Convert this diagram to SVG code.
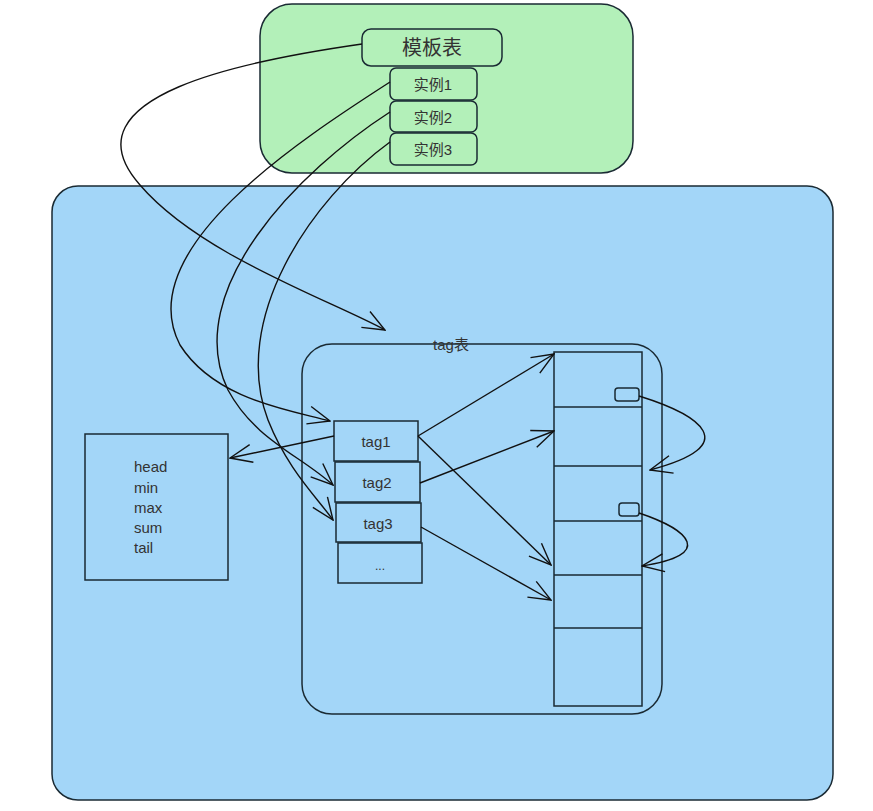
<svg xmlns="http://www.w3.org/2000/svg" width="873" height="811" viewBox="0 0 873 811">
<style>
.b{stroke:#1a2a33;stroke-width:1.5}
.t{font-family:"Liberation Sans","Noto Sans CJK SC",sans-serif;fill:#333}
.c{fill:none;stroke:#111;stroke-width:1.4}
</style>
<defs>
<marker id="a" viewBox="0 0 24 20" refX="23" refY="10" markerWidth="24" markerHeight="20" markerUnits="userSpaceOnUse" orient="auto"><path d="M1,1 L23,10 L1,19" fill="none" stroke="#111" stroke-width="1.4"/></marker>
</defs>
<rect width="873" height="811" fill="#fff"/>
<g id="green"><rect x="260" y="4" width="373" height="169" rx="32" fill="#b3f0b9" class="b"/></g>
<g id="blue"><rect x="52" y="186" width="781" height="614" rx="26" fill="#a3d6f8" class="b"/></g>
<g id="tpl"><rect x="362" y="29" width="140" height="37" rx="9" fill="#b3f0b9" class="b"/><text x="432" y="55" text-anchor="middle" font-size="20" class="t">模板表</text></g>
<g id="i1"><rect x="390" y="68" width="87" height="32" rx="6" fill="#b3f0b9" class="b"/><text x="433" y="90" text-anchor="middle" font-size="15" class="t">实例1</text></g>
<g id="i2"><rect x="390" y="101" width="87" height="31" rx="6" fill="#b3f0b9" class="b"/><text x="433" y="123" text-anchor="middle" font-size="15" class="t">实例2</text></g>
<g id="i3"><rect x="390" y="133" width="87" height="32" rx="6" fill="#b3f0b9" class="b"/><text x="433" y="155" text-anchor="middle" font-size="15" class="t">实例3</text></g>
<g id="tagtable"><rect x="302" y="344" width="360" height="370" rx="30" fill="none" class="b"/><text x="451" y="350" text-anchor="middle" font-size="15" class="t">tag表</text></g>
<g id="head"><rect x="85" y="434" width="143" height="146" fill="none" class="b"/>
<text class="t" font-size="15" x="134" y="472">head</text><text class="t" font-size="15" x="134" y="493">min</text><text class="t" font-size="15" x="134" y="513">max</text><text class="t" font-size="15" x="134" y="533">sum</text><text class="t" font-size="15" x="134" y="553">tail</text></g>
<g id="tags">
<rect x="334" y="421" width="84" height="40" fill="none" class="b"/><text x="376" y="447" text-anchor="middle" font-size="15" class="t">tag1</text>
<rect x="335" y="462" width="85" height="40" fill="none" class="b"/><text x="377" y="488" text-anchor="middle" font-size="15" class="t">tag2</text>
<rect x="336" y="503" width="85" height="39" fill="none" class="b"/><text x="378" y="529" text-anchor="middle" font-size="15" class="t">tag3</text>
<rect x="338" y="543" width="84" height="40" fill="none" class="b"/><text x="380" y="570" text-anchor="middle" font-size="12" class="t">...</text>
</g>
<g id="column">
<rect x="554" y="352" width="88" height="354" fill="none" class="b"/>
<path d="M554,407H642M554,466H642M554,521H642M554,575H642M554,628H642" class="b"/>
<rect x="615" y="388" width="24" height="13" rx="3" fill="none" class="b"/>
<rect x="619" y="503" width="20" height="13" rx="3" fill="none" class="b"/>
</g>
<g id="connectors">
<path class="c" marker-end="url(#a)" d="M362,44 C250,60 60,95 140,185 C200,255 330,300 385,330"/>
<path class="c" marker-end="url(#a)" d="M390,82 C300,140 130,250 180,345 C215,400 290,410 330,421"/>
<path class="c" marker-end="url(#a)" d="M390,112 C300,170 180,290 228,390 C255,440 300,455 333,485"/>
<path class="c" marker-end="url(#a)" d="M390,142 C310,200 230,320 268,420 C288,470 315,495 333,520"/>
<path class="c" marker-end="url(#a)" d="M334,436 L230,458"/>
<path class="c" marker-end="url(#a)" d="M418,436 L554,354"/>
<path class="c" marker-end="url(#a)" d="M418,436 L551,565"/>
<path class="c" marker-end="url(#a)" d="M420,483 L554,431"/>
<path class="c" marker-end="url(#a)" d="M421,527 L551,600"/>
<path class="c" marker-end="url(#a)" d="M639,396 C700,415 745,445 650,470"/>
<path class="c" marker-end="url(#a)" d="M639,513 C690,530 715,555 642,566"/>
</g>
</svg>
